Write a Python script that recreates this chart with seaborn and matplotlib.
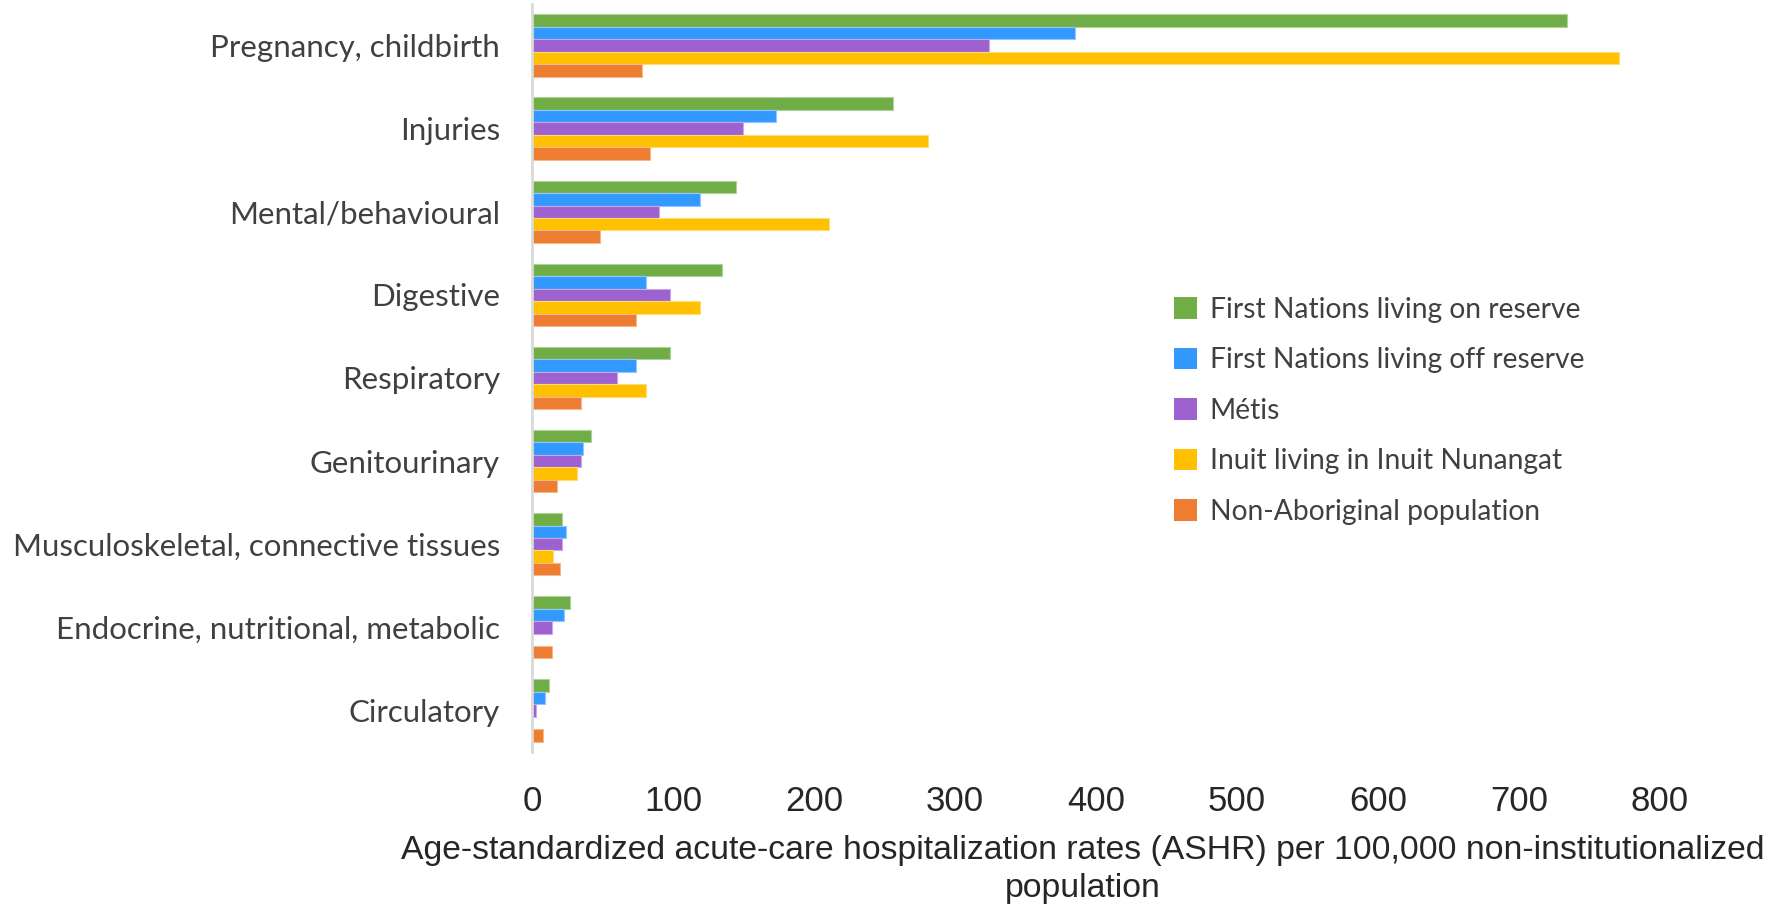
import numpy as np
import pandas as pd
import seaborn as sns
import matplotlib.pyplot as plt
from matplotlib.colors import to_rgb

categories = [
    "Pregnancy, childbirth",
    "Injuries",
    "Mental/behavioural",
    "Digestive",
    "Respiratory",
    "Genitourinary",
    "Musculoskeletal, connective tissues",
    "Endocrine, nutritional, metabolic",
    "Circulatory",
]
groups = [
    "First Nations living on reserve",
    "First Nations living off reserve",
    "Métis",
    "Inuit living in Inuit Nunangat",
    "Non-Aboriginal population",
]
on_reserve = [734, 256, 145, 135, 98, 42, 21, 27, 12]
off_reserve = [385, 173, 119, 81, 74, 36, 24, 23, 9]
metis = [324, 150, 90, 98, 60, 35, 21, 14, 3]
inuit = [771, 281, 211, 119, 81, 32, 15, np.nan, np.nan]
non_aboriginal = [78, 84, 48, 74, 35, 18, 20, 14, 8]

colors = ["#70AD47", "#3399FF", "#9E61D0", "#FFC000", "#ED7D31"]

df = pd.DataFrame({"category": categories, groups[0]: on_reserve, groups[1]: off_reserve,
                   groups[2]: metis, groups[3]: inuit, groups[4]: non_aboriginal})
long = df.melt(id_vars="category", var_name="group", value_name="rate")

sns.set_style("white")
plt.rcParams["font.family"] = ["Lato", "DejaVu Sans"]
axis_font = "Liberation Sans"

fig = plt.figure(figsize=(17.85, 9.06), dpi=100)
ax = fig.add_axes([0.298, 0.170, 0.632, 0.8256])

sns.barplot(data=long, y="category", x="rate", hue="group", order=categories,
            hue_order=groups, palette=colors, orient="h", width=0.75, gap=0,
            saturation=1, errorbar=None, ax=ax)

# thin light outline around each bar, like the original
for bar in ax.patches:
    fc = np.array(to_rgb(bar.get_facecolor()))
    bar.set_edgecolor(tuple(fc * 0.55 + 0.45))
    bar.set_linewidth(0.8)

ax.set_xlim(0, 800)
ax.set_xticks(range(0, 801, 100))
ax.set_ylabel("")
ax.set_xlabel("Age-standardized acute-care hospitalization rates (ASHR) per 100,000 non-institutionalized\npopulation",
              fontsize=24.3, family=axis_font, color="#262626", labelpad=12, linespacing=1.3)
ax.xaxis.label.set_x(0.488)
for lab in ax.get_xticklabels():
    lab.set_family(axis_font)
ax.tick_params(axis="x", labelsize=25, length=0, pad=24, labelcolor="#262626")
ax.tick_params(axis="y", labelsize=22.5, length=0, pad=23, labelcolor="#404040")

for s in ["top", "right", "bottom"]:
    ax.spines[s].set_visible(False)
ax.spines["left"].set_color("#D9D9D9")
ax.spines["left"].set_linewidth(2)

leg = ax.legend(loc="center left", bbox_to_anchor=(0.547, 0.356, 0.3, 0.2), frameon=False,
                fontsize=20.3, handlelength=0.8, handleheight=0.8, handletextpad=0.45,
                labelspacing=0.87)
for t in leg.get_texts():
    t.set_color("#404040")
for h in leg.legend_handles:
    h.set_linewidth(0)

fig.savefig("out.png", dpi=100)
